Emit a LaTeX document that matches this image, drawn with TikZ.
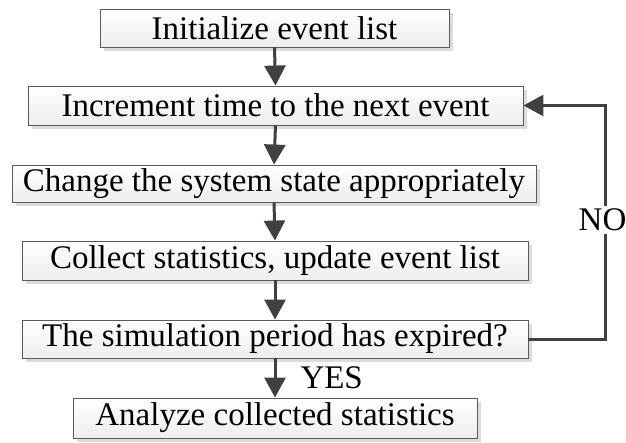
\documentclass[tikz,border=0pt]{standalone}
\usepackage{fontspec}
\setmainfont{Liberation Serif}
\usetikzlibrary{arrows.meta,shadows}
\definecolor{linegray}{HTML}{404040}
\definecolor{boxedge}{HTML}{5A5A5A}
\definecolor{shadowgray}{HTML}{DCDCDC}
\begin{document}
\begin{tikzpicture}[x=1pt,y=-1pt,
  stepbox/.style={draw=boxedge, line width=0.9pt, inner sep=0pt,
    top color=white, bottom color=gray!14,
    drop shadow={shadow xshift=4pt, shadow yshift=-4pt, fill=shadowgray, opacity=1},
    font=\fontsize{33}{36}\selectfont, text=black},
  flow/.style={draw=linegray, line width=3pt,
    -{Triangle[length=20pt,width=21pt]}},
  lbl/.style={font=\fontsize{33}{36}\selectfont, text=black, inner sep=1pt}]
\useasboundingbox (0,0) rectangle (626,442);
% process steps
\node[stepbox, minimum width=349pt, minimum height=38pt] (init) at (274.5,28) {Initialize event list};
\node[stepbox, minimum width=495pt, minimum height=39pt] (incr) at (275.5,105.5) {Increment time to the next event};
\node[stepbox, minimum width=524pt, minimum height=37pt] (change) at (274,183.5) {Change the system state appropriately};
\node[stepbox, minimum width=506pt, minimum height=39pt] (collect) at (275,260.5) {Collect statistics, update event list};
\node[stepbox, minimum width=506pt, minimum height=38pt] (check) at (275,339) {The simulation period has expired?};
\node[stepbox, minimum width=404pt, minimum height=40pt] (analyze) at (275,418) {Analyze collected statistics};
% main flow
\draw[flow] (init.south) -- (incr.north);
\draw[flow] (incr.south) -- (change.north);
\draw[flow] (change.south) -- (collect.north);
\draw[flow] (collect.south) -- (check.north);
\draw[flow] (check.south) -- node[lbl, anchor=west, xshift=23pt] {YES} (analyze.north);
% loop back when the period has not expired
\coordinate (loopB) at (605,339);
\coordinate (loopT) at (605,105.5);
\draw[flow] (check.east) -- (loopB) -- node[lbl, pos=0.51, fill=white, inner sep=3pt, xshift=-2.5pt] {NO} (loopT) -- (incr.east);
\end{tikzpicture}
\end{document}
